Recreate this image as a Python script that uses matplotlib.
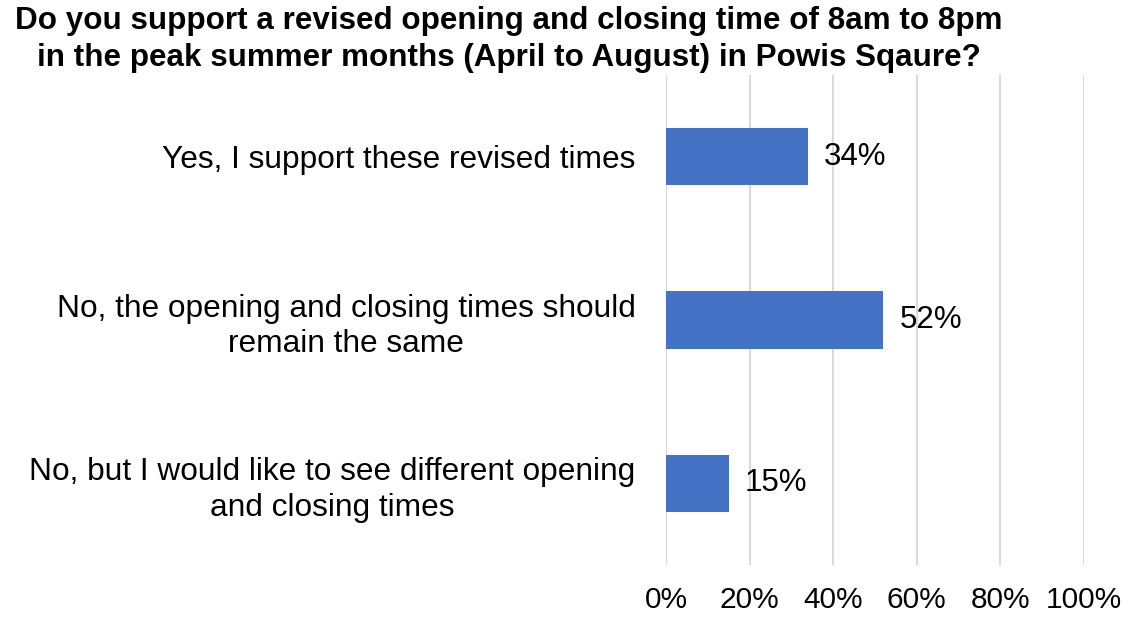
import matplotlib.pyplot as plt
import numpy as np

# survey answers, top to bottom
categories = ["Yes, I support these revised times",
              "No, the opening and closing times should\nremain the same",
              "No, but I would like to see different opening\nand closing times"]
shares = [34, 52, 15]
labels = ["34%", "52%", "15%"]
ticks = [0, 20, 40, 60, 80, 100]
tick_labels = ["0%", "20%", "40%", "60%", "80%", "100%"]

plt.rcParams['font.family'] = ['Liberation Sans', 'DejaVu Sans']

fig = plt.figure(figsize=(11.28, 6.17), dpi=100)
ax = fig.add_axes([0.5904, 0.0843, 0.3706, 0.7941])

y = np.arange(len(categories))
ax.barh(y, shares, height=0.35, color="#4472C4", zorder=3)
for yi, v, lab in zip(y, shares, labels):
    ax.text(v + 3.8, yi, lab, va="center", ha="left", fontsize=22.5)

ax.set_xlim(0, 100)
ax.set_ylim(len(categories) - 0.5, -0.5)
ax.set_xticks(ticks)
ax.set_xticklabels(tick_labels, fontsize=21.5)
ax.set_yticks(y)
ax.set_yticklabels(categories, fontsize=22.8, ha="right", multialignment="center",
                   linespacing=1.25)
ax.tick_params(axis="x", length=0, pad=15)
ax.tick_params(axis="y", length=0, pad=22)
ax.grid(axis="x", color="#d9d9d9", linewidth=1.5, zorder=0)
for s in ax.spines.values():
    s.set_visible(False)

fig.text(0.451, 0.99, "Do you support a revised opening and closing time of 8am to 8pm\n"
         "in the peak summer months (April to August) in Powis Sqaure?",
         ha="center", va="top", fontsize=22.6, fontweight="bold", linespacing=1.3)

fig.savefig("out.png", dpi=100)
